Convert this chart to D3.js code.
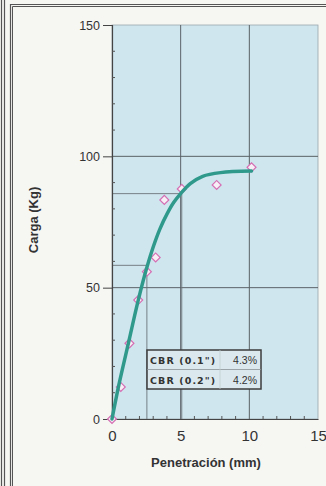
<!DOCTYPE html>
<html>
<head>
<meta charset="utf-8">
<script src="https://cdn.jsdelivr.net/npm/d3@7"></script>
<style>
  html, body { margin: 0; padding: 0; background: #f6f6f3; }
  svg { display: block; }
  text { font-family: "Liberation Sans", Arial, sans-serif; fill: #333; }
</style>
</head>
<body>
<svg id="chart" width="326" height="486"></svg>
<script>
// Ensayo CBR: carga vs penetración
const penetracion = [0, 0.64, 1.27, 1.91, 2.54, 3.18, 3.81, 5.08, 7.62, 10.16];
const carga       = [0, 12.2, 28.8, 45.3, 56.1, 61.5, 83.4, 87.6, 89.1, 95.8];

// Curva ajustada (trazo suave)
const curvaX = [0, 0.5, 1.2, 1.9, 2.5, 3.0, 3.5, 4.0, 4.5, 5.0, 5.7, 6.6, 7.9, 10.16];
const curvaY = [0, 13, 29, 45, 57, 65.5, 72.5, 78, 82.5, 85.8, 89.6, 92.4, 93.8, 94.4];

// Lecturas CBR a 0.1" y 0.2"
const cbrPen   = [2.54, 5.08];
const cbrCarga = [58.5, 85.8];
const cbrLabel = ['CBR (0.1")', 'CBR (0.2")'];
const cbrValor = ['4.3%', '4.2%'];

const xTicks = [0, 5, 10, 15];
const yTicks = [0, 50, 100, 150];

const svg = d3.select("#chart");

// Marco de la hoja
const frame = svg.append("g").attr("stroke", "#555").attr("fill", "none");
frame.append("line").attr("x1", 1.5).attr("x2", 1.5).attr("y1", 0).attr("y2", 486).attr("stroke-width", 1.2);
frame.append("line").attr("x1", 4.5).attr("x2", 4.5).attr("y1", 0).attr("y2", 486).attr("stroke-width", 1.2);
frame.append("path").attr("d", "M10.5,486 V4.5 H326").attr("stroke-width", 1.2);
frame.append("path").attr("d", "M12.5,486 V6.5 H326").attr("stroke-width", 1);

const x = d3.scaleLinear().domain([0, 15]).range([112, 318]);
const y = d3.scaleLinear().domain([0, 150]).range([419, 25]);

// Área de trazado
svg.append("rect")
  .attr("x", x(0)).attr("y", y(150))
  .attr("width", x(15) - x(0)).attr("height", y(0) - y(150))
  .attr("fill", "#cfe6ef")
  .attr("stroke", "#9aa6ab").attr("stroke-width", 0.8);

// Rejilla principal
const grid = svg.append("g").attr("stroke", "#5a6266").attr("stroke-width", 1);
grid.selectAll(".gv").data(xTicks.filter(d => d > 0 && d < 15)).join("line")
  .attr("x1", d => x(d)).attr("x2", d => x(d)).attr("y1", y(0)).attr("y2", y(150));
grid.selectAll(".gh").data(yTicks.filter(d => d > 0 && d < 150)).join("line")
  .attr("x1", x(0)).attr("x2", x(15)).attr("y1", d => y(d)).attr("y2", d => y(d));

// Líneas de lectura CBR
const lect = svg.append("g").attr("stroke", "#6c7478").attr("stroke-width", 0.9);
cbrPen.forEach((p, i) => {
  lect.append("line").attr("x1", x(0)).attr("x2", x(p)).attr("y1", y(cbrCarga[i])).attr("y2", y(cbrCarga[i]));
  lect.append("line").attr("x1", x(p)).attr("x2", x(p)).attr("y1", y(cbrCarga[i])).attr("y2", y(0));
});

// Ejes
const yAxis = d3.axisLeft(y).tickValues(yTicks).tickSize(9).tickPadding(3);
const gy = svg.append("g").attr("transform", `translate(${x(0)},0)`).call(yAxis);
gy.attr("font-size", null).attr("font-family", null);
gy.select(".domain").attr("stroke", "#444").attr("stroke-width", 1.2);
gy.selectAll(".tick line").attr("stroke", "#444");
gy.selectAll(".tick text").style("font-size", "12.5px").attr("fill", "#333");

// Marcas menores del eje Y (hacia dentro)
const yMinor = d3.range(10, 150, 10).filter(d => d % 50 !== 0);
svg.append("g").selectAll("line").data(yMinor).join("line")
  .attr("x1", x(0)).attr("x2", x(0) + 3)
  .attr("y1", d => y(d)).attr("y2", d => y(d))
  .attr("stroke", "#555").attr("stroke-width", 1);

const xAxis = d3.axisBottom(x).tickValues(xTicks).tickSize(0).tickPadding(11);
const gx = svg.append("g").attr("transform", `translate(0,${y(0)})`).call(xAxis);
gx.attr("font-size", null).attr("font-family", null);
gx.select(".domain").attr("stroke", "#444").attr("stroke-width", 1.2);
gx.selectAll(".tick text").style("font-size", "15px").attr("fill", "#333");

// Marcas menores del eje X (hacia dentro)
const xMinor = d3.range(1, 15, 1).filter(d => d % 5 !== 0);
svg.append("g").selectAll("line").data(xMinor).join("line")
  .attr("x1", d => x(d)).attr("x2", d => x(d))
  .attr("y1", y(0)).attr("y2", y(0) - 3)
  .attr("stroke", "#555").attr("stroke-width", 1);

// Títulos de ejes
svg.append("text")
  .attr("x", 206).attr("y", 467)
  .attr("text-anchor", "middle")
  .style("font-size", "13px").attr("font-weight", "bold")
  .text("Penetración (mm)");

svg.append("text")
  .attr("transform", "translate(38,220) rotate(-90)")
  .attr("text-anchor", "middle")
  .style("font-size", "13px").attr("font-weight", "bold")
  .text("Carga (Kg)");

// Puntos medidos
const diamond = d3.symbol().type(d3.symbolSquare).size(40);
svg.append("g").selectAll("path").data(penetracion).join("path")
  .attr("d", diamond)
  .attr("transform", (d, i) => `translate(${x(d)},${y(carga[i])}) rotate(45)`)
  .attr("fill", "#f8eef5")
  .attr("stroke", "#d46fb3").attr("stroke-width", 1.2);

// Curva de ajuste
const line = d3.line()
  .x(d => x(d))
  .y((d, i) => y(curvaY[i]))
  .curve(d3.curveCatmullRom.alpha(0.5));
svg.append("path")
  .datum(curvaX)
  .attr("d", line)
  .attr("fill", "none")
  .attr("stroke", "#2f9a8c")
  .attr("stroke-width", 3.5)
  .attr("stroke-linecap", "round");

// Cuadro de resultados CBR
const box = svg.append("g");
const bx = 147, by = 350, bw = 114, rh = 19.5;
box.append("rect")
  .attr("x", bx).attr("y", by).attr("width", bw).attr("height", rh * 2)
  .attr("fill", "#dbe9ee").attr("stroke", "#3d3d3d").attr("stroke-width", 1.5);
box.append("line")
  .attr("x1", bx).attr("x2", bx + bw).attr("y1", by + rh).attr("y2", by + rh)
  .attr("stroke", "#8a9296").attr("stroke-width", 0.8);
box.append("line")
  .attr("x1", bx + 73).attr("x2", bx + 73).attr("y1", by).attr("y2", by + rh * 2)
  .attr("stroke", "#c0cace").attr("stroke-width", 0.8);
cbrLabel.forEach((t, i) => {
  box.append("text")
    .attr("x", bx + 3).attr("y", by + rh * i + 14)
    .style("font-size", "9.5px").attr("font-weight", "bold")
    .attr("letter-spacing", 1.1)
    .style("font-family", "DejaVu Sans, sans-serif")
    .text(t);
  box.append("text")
    .attr("x", bx + bw - 4).attr("y", by + rh * i + 14)
    .attr("text-anchor", "end")
    .style("font-size", "10.5px")
    .attr("fill", "#444")
    .text(cbrValor[i]);
});
</script>
</body>
</html>
